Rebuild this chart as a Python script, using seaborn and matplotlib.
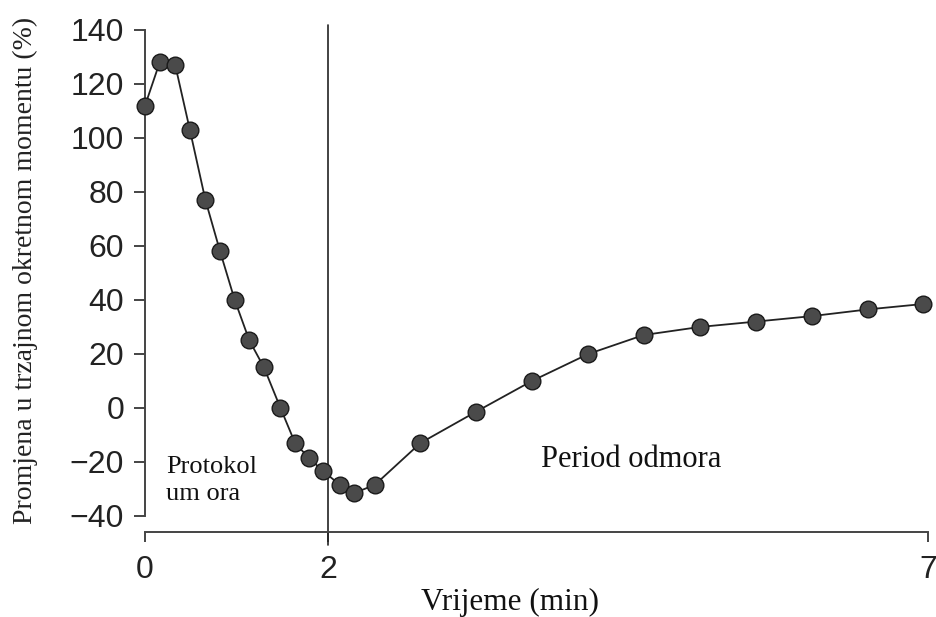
import matplotlib
matplotlib.use("Agg")
import matplotlib.pyplot as plt
import numpy as np
import pandas as pd
import seaborn as sns

# vrijeme (min) i promjena u trzajnom okretnom momentu (%)
vrijeme = [0.0, 0.16, 0.33, 0.49, 0.66, 0.82, 0.98, 1.14, 1.30, 1.48, 1.64, 1.79, 1.95,
           2.10, 2.22, 2.39, 2.77, 3.23, 3.70, 4.17, 4.63, 5.10, 5.57, 6.03, 6.50, 6.96]
promjena = [112, 128, 127, 103, 77, 58, 40, 25, 15, 0, -13, -18.5, -23.5,
            -28.5, -31.5, -28.5, -13, -1.5, 10, 20, 27, 30, 32, 34, 36.5, 38.5]

x_ticks = [0, 2, 7]
y_ticks = [-40, -20, 0, 20, 40, 60, 80, 100, 120, 140]

df = pd.DataFrame({"vrijeme": vrijeme, "promjena": promjena})


# os x nije linearna: protokol (0-2 min) je stisnut u odnosu na odmor
def fwd(x):
    x = np.asarray(x, dtype=float)
    return np.where(x <= 2, x * 91.5, 183 + (x - 2) * 120)


def inv(u):
    u = np.asarray(u, dtype=float)
    return np.where(u <= 183, u / 91.5, 2 + (u - 183) / 120)


sns.set_theme(style="ticks")
plt.rcParams["font.family"] = ["Liberation Sans", "DejaVu Sans"]

fig = plt.figure(figsize=(9.37, 6.17), dpi=100)
ax = fig.add_axes([0.1548, 0.138, 0.8355, 0.8217])

sns.lineplot(data=df, x="vrijeme", y="promjena", ax=ax, color="#222222",
             linewidth=1.3, marker="o", markersize=12, markerfacecolor="#4a4a4a",
             markeredgecolor="#1a1a1a", markeredgewidth=1.0, clip_on=False, zorder=3)

ax.set_xscale("function", functions=(fwd, inv))
ax.set_xlim(0, 7)
ax.set_ylim(-45.9, 141.9)

ax.axvline(2, ymin=-0.026, ymax=1, color="#222222", linewidth=1.2, clip_on=False, zorder=2)

ax.set_xticks(x_ticks)
ax.set_xticklabels([str(t) for t in x_ticks])
ax.set_yticks(y_ticks)
ax.set_yticklabels([str(t).replace("-", "\u2212") for t in y_ticks])
ax.minorticks_off()

for side in ["top", "right"]:
    ax.spines[side].set_visible(False)
ax.spines["left"].set_bounds(-40, 140)
ax.spines["bottom"].set_bounds(0, 7)
for side in ["left", "bottom"]:
    ax.spines[side].set_color("#444444")
    ax.spines[side].set_linewidth(1.4)

ax.tick_params(axis="y", length=8, width=1.4, color="#444444", pad=7,
               labelsize=23, labelcolor="#222222")
ax.tick_params(axis="x", length=7, width=1.4, color="#444444", pad=10,
               labelsize=23, labelcolor="#222222")

ax.set_xlabel("")
ax.set_ylabel("")
fig.text(0.027, 0.561, "Promjena u trzajnom okretnom momentu (%)", rotation=90,
         ha="center", va="center", fontsize=20, family="Liberation Serif", color="#222222")
fig.text(0.544, 0.023, "Vrijeme (min)", ha="center", va="center",
         fontsize=22.5, family="Liberation Serif", color="#111111")

ax.text(0.23, -27, "Protokol\num ora", ha="left", va="center", fontsize=19,
        family="Liberation Serif", color="#111111", linespacing=1.3)
ax.text(4.53, -19, "Period odmora", ha="center", va="center", fontsize=22,
        family="Liberation Serif", color="#111111")

fig.savefig("out.png", dpi=100)
